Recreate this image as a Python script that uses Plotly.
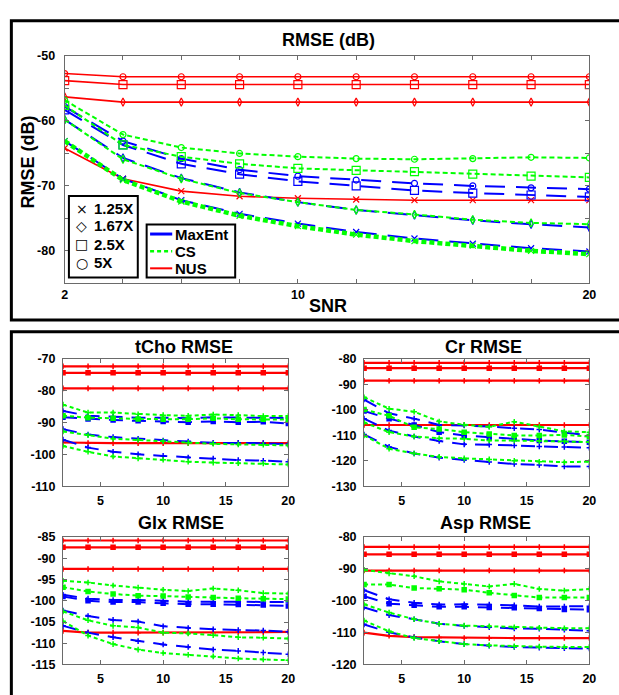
import plotly.graph_objects as go

# ---------------- data ----------------
SNR = [2, 4, 6, 8, 10, 12, 14, 16, 18, 20]
RATIOS = ["1.25X", "1.67X", "2.5X", "5X"]
METHODS = ["MaxEnt", "CS", "NUS"]
PANEL_TITLES = ["RMSE (dB)", "tCho RMSE", "Cr RMSE", "Glx RMSE", "Asp RMSE"]

# Top panel (overall RMSE, dB) ; rows = 1.25X, 1.67X, 2.5X, 5X
TOP_MAXENT = [
    [-63.1, -68.9, -72.2, -74.3, -75.8, -77.1, -78.1, -78.9, -79.6, -80.1],
    [-59.8, -65.7, -68.8, -71.0, -72.5, -73.7, -74.5, -75.3, -75.9, -76.4],
    [-58.3, -63.7, -66.6, -68.2, -69.3, -70.0, -70.7, -71.1, -71.4, -71.7],
    [-57.8, -63.1, -65.8, -67.5, -68.5, -69.1, -69.6, -70.0, -70.3, -70.5],
]
TOP_CS = [
    [-63.1, -69.1, -72.4, -74.6, -76.2, -77.5, -78.5, -79.2, -80.0, -80.5],
    [-59.8, -65.9, -68.9, -71.1, -72.5, -73.7, -74.4, -75.2, -75.7, -75.9],
    [-57.6, -63.7, -65.5, -66.6, -67.3, -67.6, -67.8, -68.2, -68.5, -68.7],
    [-56.8, -62.1, -64.1, -65.0, -65.5, -65.8, -65.9, -65.8, -65.6, -65.7],
]
TOP_NUS = [
    [-64.2, -68.9, -70.8, -71.6, -71.9, -72.1, -72.2, -72.2, -72.2, -72.2],
    [-56.3, -57.1, -57.1, -57.1, -57.1, -57.1, -57.1, -57.1, -57.1, -57.1],
    [-53.8, -54.4, -54.4, -54.4, -54.4, -54.4, -54.4, -54.4, -54.4, -54.4],
    [-52.7, -53.2, -53.2, -53.2, -53.2, -53.2, -53.2, -53.2, -53.2, -53.2],
]

TCHO_MAXENT = [
    [-95.4, -97.9, -99.2, -100.0, -100.5, -101.0, -101.3, -101.8, -102.0, -102.3],
    [-92.1, -93.8, -94.6, -95.1, -95.7, -96.0, -96.4, -96.4, -96.5, -96.8],
    [-88.4, -88.9, -89.2, -89.5, -89.7, -89.9, -89.7, -89.9, -89.8, -90.3],
    [-86.4, -87.9, -88.2, -88.5, -88.5, -88.7, -88.4, -88.5, -88.5, -88.6],
]
TCHO_CS = [
    [-97.4, -99.2, -100.7, -101.3, -101.7, -102.3, -102.6, -102.8, -102.9, -103.2],
    [-92.8, -94.0, -95.1, -95.5, -95.9, -96.4, -96.7, -96.9, -97.0, -97.2],
    [-87.9, -88.5, -88.7, -88.9, -89.0, -89.0, -88.7, -89.0, -89.0, -89.1],
    [-84.4, -86.9, -86.9, -87.4, -87.7, -87.9, -87.5, -87.7, -88.0, -88.0],
]
TCHO_NUS = [
    [-96.3, -96.5, -96.5, -96.5, -96.5, -96.5, -96.5, -96.5, -96.5, -96.5],
    [-79.3, -79.3, -79.3, -79.3, -79.3, -79.3, -79.3, -79.3, -79.3, -79.3],
    [-74.4, -74.4, -74.4, -74.4, -74.4, -74.4, -74.4, -74.4, -74.4, -74.4],
    [-72.4, -72.4, -72.4, -72.4, -72.4, -72.4, -72.4, -72.4, -72.4, -72.4],
]

CR_MAXENT = [
    [-109.7, -114.6, -117.2, -118.8, -119.7, -120.5, -121.3, -121.7, -122.3, -122.3],
    [-103.5, -108.2, -110.5, -112.3, -113.6, -113.7, -114.0, -114.4, -114.6, -114.9],
    [-100.5, -103.5, -106.0, -108.8, -110.1, -110.8, -111.4, -112.1, -112.4, -112.8],
    [-96.0, -101.4, -103.5, -106.0, -106.2, -106.6, -107.3, -107.8, -109.0, -110.0],
]
CR_CS = [
    [-110.1, -115.3, -117.2, -118.5, -119.1, -119.5, -120.0, -120.4, -120.6, -120.4],
    [-105.0, -108.8, -110.5, -111.2, -111.4, -112.1, -112.1, -112.3, -112.4, -112.7],
    [-99.9, -102.4, -106.9, -107.6, -108.8, -109.5, -110.1, -110.1, -109.9, -110.5],
    [-95.1, -99.6, -100.8, -104.6, -105.9, -106.7, -104.7, -106.7, -108.5, -108.8],
]
CR_NUS = [
    [-106.0, -106.0, -106.0, -106.0, -106.0, -106.0, -106.0, -106.0, -106.0, -106.0],
    [-88.6, -88.6, -88.6, -88.6, -88.6, -88.6, -88.6, -88.6, -88.6, -88.6],
    [-83.7, -83.7, -83.7, -83.7, -83.7, -83.7, -83.7, -83.7, -83.7, -83.7],
    [-81.6, -81.6, -81.6, -81.6, -81.6, -81.6, -81.6, -81.6, -81.6, -81.6],
]

GLX_MAXENT = [
    [-105.9, -107.5, -108.6, -109.5, -110.3, -110.9, -111.5, -111.8, -112.2, -112.6],
    [-102.3, -103.6, -104.5, -104.9, -106.0, -106.4, -106.7, -106.9, -107.0, -107.3],
    [-99.0, -100.0, -100.3, -100.3, -100.6, -100.8, -100.8, -100.9, -101.0, -101.2],
    [-98.6, -99.5, -99.8, -99.8, -100.0, -100.2, -100.2, -100.2, -100.3, -100.3],
]
GLX_CS = [
    [-104.8, -108.2, -110.2, -111.5, -112.3, -112.7, -113.1, -113.6, -113.8, -114.0],
    [-102.5, -104.6, -105.9, -106.3, -107.5, -107.7, -108.1, -108.6, -108.7, -108.9],
    [-96.8, -97.8, -98.4, -98.8, -98.9, -99.1, -99.2, -99.4, -99.5, -99.6],
    [-95.3, -95.7, -96.4, -96.9, -97.4, -97.7, -97.1, -97.5, -98.2, -98.3],
]
GLX_NUS = [
    [-107.1, -107.5, -107.5, -107.5, -107.5, -107.5, -107.5, -107.4, -107.4, -107.3],
    [-92.5, -92.5, -92.5, -92.5, -92.5, -92.5, -92.5, -92.5, -92.5, -92.5],
    [-87.4, -87.4, -87.4, -87.4, -87.4, -87.4, -87.4, -87.4, -87.4, -87.4],
    [-85.8, -85.8, -85.8, -85.8, -85.8, -85.8, -85.8, -85.8, -85.8, -85.8],
]

ASP_MAXENT = [
    [-107.4, -109.9, -111.5, -112.7, -113.6, -114.1, -114.5, -114.7, -114.9, -115.0],
    [-102.1, -104.5, -105.8, -107.2, -107.9, -108.3, -108.7, -108.8, -109.1, -109.4],
    [-98.6, -100.9, -101.4, -101.9, -101.9, -102.1, -102.2, -102.4, -102.7, -102.8],
    [-96.7, -99.5, -100.6, -101.2, -101.1, -101.2, -101.4, -101.8, -101.8, -101.7],
]
ASP_CS = [
    [-106.2, -109.6, -111.7, -112.7, -113.6, -114.0, -114.3, -114.4, -114.5, -114.5],
    [-101.1, -103.7, -105.8, -107.2, -107.8, -108.0, -108.3, -108.5, -108.6, -108.6],
    [-94.9, -94.9, -96.0, -96.2, -96.5, -97.5, -98.3, -99.0, -99.0, -99.0],
    [-90.3, -91.4, -92.3, -93.9, -94.7, -95.5, -94.7, -96.3, -96.8, -96.3],
]
ASP_NUS = [
    [-110.0, -111.0, -111.4, -111.5, -111.7, -111.7, -111.7, -111.7, -111.7, -111.7],
    [-90.5, -90.5, -90.5, -90.5, -90.5, -90.5, -90.5, -90.5, -90.5, -90.5],
    [-85.4, -85.4, -85.4, -85.4, -85.4, -85.4, -85.4, -85.4, -85.4, -85.4],
    [-83.1, -83.1, -83.1, -83.1, -83.1, -83.1, -83.1, -83.1, -83.1, -83.1],
]

# axis settings per panel
Y_RANGES = [[-85, -50], [-110, -70], [-130, -80], [-115, -85], [-120, -80]]
Y_TICKS = [
    [-85, -80, -75, -70, -65, -60, -55, -50],
    [-110, -100, -90, -80, -70],
    [-130, -120, -110, -100, -90, -80],
    [-115, -110, -105, -100, -95, -90, -85],
    [-120, -110, -100, -90, -80],
]
Y_TICKTEXT = [
    ["", "-80", "", "-70", "", "-60", "", "-50"],
    ["-110", "-100", "-90", "-80", "-70"],
    ["-130", "-120", "-110", "-100", "-90", "-80"],
    ["-115", "-110", "-105", "-100", "-95", "-90", "-85"],
    ["-120", "-110", "-100", "-90", "-80"],
]
TOP_XTICKS = [2, 4, 6, 8, 10, 12, 14, 16, 18, 20]
TOP_XTICKTEXT = ["2", "", "", "", "10", "", "", "", "", "20"]
SUB_XTICKS = [5, 10, 15, 20]

PANEL_DATA = [
    (TOP_MAXENT, TOP_CS, TOP_NUS),
    (TCHO_MAXENT, TCHO_CS, TCHO_NUS),
    (CR_MAXENT, CR_CS, CR_NUS),
    (GLX_MAXENT, GLX_CS, GLX_NUS),
    (ASP_MAXENT, ASP_CS, ASP_NUS),
]

# ---------------- layout helpers ----------------
W, H = 619, 695
def px(x):
    return x / W
def py(y):
    return 1 - y / H

FONT = "Liberation Sans, Arial, Helvetica, sans-serif"
COLORS = {"MaxEnt": "#0000FF", "CS": "#00FF00", "NUS": "#FF0000"}
SYM = {"1.25X": "x-thin-open", "1.67X": "diamond-tall-open",
       "2.5X": "square-open", "5X": "circle-open"}
SYM_SMALL = {"1.25X": "cross-thin-open", "1.67X": "cross-thin-open",
             "2.5X": "square", "5X": "cross-thin-open"}

# panel pixel boxes: (left, right, top, bottom)
BOXES = [
    (62.7, 596, 50, 282),
    (61, 290, 359, 489),
    (367, 596, 359, 489),
    (61, 290, 541, 671),
    (367, 596, 541, 671),
]

fig = go.Figure()

for p, (boxes, data) in enumerate(zip(BOXES, PANEL_DATA)):
    ax = "" if p == 0 else str(p + 1)
    top = p == 0
    for m_index in [2, 0, 1]:  # draw NUS, then MaxEnt, then CS
        method = METHODS[m_index]
        series = data[m_index]
        color = COLORS[method]
        for r, ratio in enumerate(RATIOS):
            if method == "NUS":
                dash, width = "solid", (1.6 if top else 2.2)
            elif method == "MaxEnt":
                dash, width = ("20px,11px" if top else "14px,9px"), 2
            else:
                dash = "5px,3px" if top else "4px,3px"
                width = 4.5 if (top and ratio == "1.25X") else 2
            if top:
                marker = dict(symbol=SYM[ratio], size=(8 if ratio == "2.5X" else 6),
                              color=color, line=dict(color=color, width=1.2))
            else:
                marker = dict(symbol=SYM_SMALL[ratio], size=4,
                              color=color, line=dict(color=color, width=1.5))
            fig.add_trace(go.Scatter(
                x=SNR, y=series[r], mode="lines+markers",
                line=dict(color=color, width=width, dash=dash),
                marker=marker, showlegend=False,
                xaxis="x" + ax, yaxis="y" + ax,
                name=f"{method} {ratio}", hoverinfo="skip"))

axis_common = dict(showline=True, linecolor="#6a6a6a", linewidth=1, mirror="ticks",
                   ticks="inside", ticklen=4, tickcolor="#6a6a6a", showgrid=False,
                   zeroline=False,
                   tickfont=dict(family=FONT, size=12.5, color="black", weight="bold"))

layout = dict(width=W, height=H, margin=dict(l=0, r=0, t=0, b=0),
              paper_bgcolor="white", plot_bgcolor="white", showlegend=False)

for p, (l, r, t, b) in enumerate(BOXES):
    ax = "" if p == 0 else str(p + 1)
    xa = dict(axis_common, domain=[px(l), px(r)], range=[2, 20],
              anchor="y" + ax, ticklabelstandoff=3)
    ya = dict(axis_common, domain=[py(b), py(t)], range=Y_RANGES[p],
              anchor="x" + ax, tickvals=Y_TICKS[p], ticktext=Y_TICKTEXT[p],
              ticklabelstandoff=6 if p == 0 else 4)
    if p == 0:
        xa.update(tickvals=TOP_XTICKS, ticktext=TOP_XTICKTEXT, ticklabelstandoff=0)
    else:
        xa.update(tickvals=SUB_XTICKS)
    layout["xaxis" + ax] = xa
    layout["yaxis" + ax] = ya

fig.update_layout(**layout)

# ---------------- frames ----------------
shapes = [
    dict(type="rect", xref="paper", yref="paper", x0=px(8.5), x1=px(640),
         y0=py(319.5), y1=py(14), line=dict(color="black", width=3)),
    dict(type="rect", xref="paper", yref="paper", x0=px(8.5), x1=px(640),
         y0=py(720), y1=py(331.5), line=dict(color="black", width=3)),
    # legend boxes
    dict(type="rect", xref="paper", yref="paper", x0=px(67), x1=px(137),
         y0=py(276), y1=py(193), line=dict(color="black", width=2),
         fillcolor="white", layer="above"),
    dict(type="rect", xref="paper", yref="paper", x0=px(146), x1=px(236),
         y0=py(276), y1=py(222), line=dict(color="black", width=2),
         fillcolor="white", layer="above"),
]
line_rows = [231.7, 249.3, 266.7]
for method, yy in zip(METHODS, line_rows):
    dash = {"MaxEnt": "solid", "CS": "4px,3px", "NUS": "solid"}[method]
    width = {"MaxEnt": 3, "CS": 2.5, "NUS": 2}[method]
    shapes.append(dict(type="line", xref="paper", yref="paper",
                       x0=px(149.5), x1=px(172), y0=py(yy), y1=py(yy),
                       line=dict(color=COLORS[method], width=width, dash=dash),
                       layer="above"))
fig.update_layout(shapes=shapes)

# ---------------- text ----------------
annotations = []
def ann(x, y, text, size, xanchor="center", bold=True, angle=0, family=FONT):
    annotations.append(dict(
        xref="paper", yref="paper", x=px(x), y=py(y), text=text,
        showarrow=False, xanchor=xanchor, yanchor="middle", textangle=angle,
        font=dict(family=family, size=size, color="black",
                  weight="bold" if bold else "normal")))

ann(331, 34, PANEL_TITLES[0], 18)
ann(330, 305, "SNR", 18)
ann(25, 158, "RMSE (dB)", 18, angle=-90)
ann(184, 347, PANEL_TITLES[1], 18)
ann(488, 347, PANEL_TITLES[2], 18)
ann(181, 527, PANEL_TITLES[3], 18)
ann(490, 527, PANEL_TITLES[4], 18)

glyphs = {"1.25X": "×", "1.67X": "◇", "2.5X": "□", "5X": "○"}
marker_rows = [205.7, 223.3, 242.3, 261]
for ratio, yy in zip(RATIOS, marker_rows):
    ann(80, yy, glyphs[ratio], 14, bold=False, family="DejaVu Sans")
    ann(90.5, yy, ratio, 15, xanchor="left")
for method, yy in zip(METHODS, line_rows):
    ann(172.5, yy, method, 15, xanchor="left")

fig.update_layout(annotations=annotations)

# the page body has a default 8px margin; remove it so the figure fills the window
fig.write_html("out.html", config={"displayModeBar": False},
               post_script="document.body.style.margin='0px';")
